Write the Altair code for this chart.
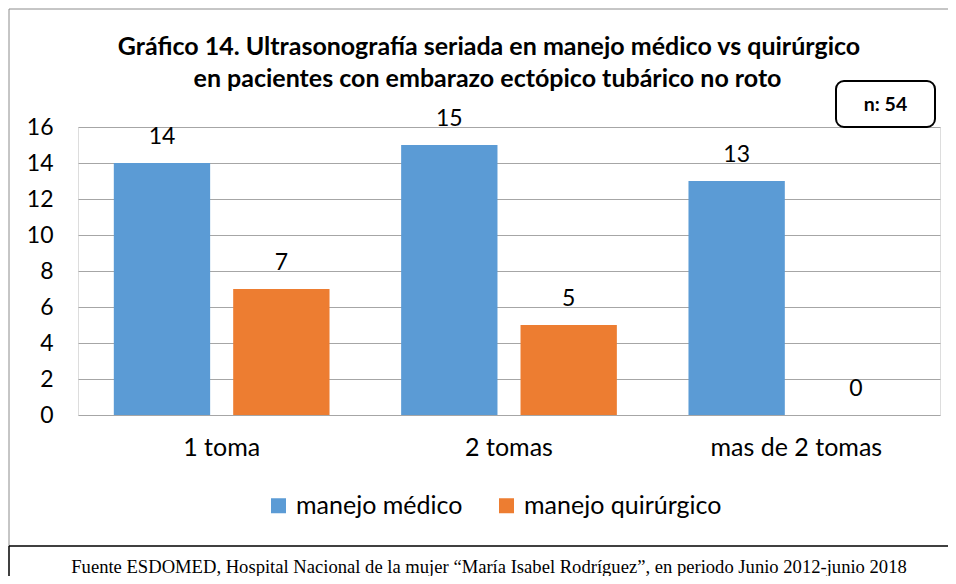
import altair as alt
import pandas as pd

categories = ["1 toma", "2 tomas", "mas de 2 tomas"]
series = ["manejo médico", "manejo quirúrgico"]
medico = [14, 15, 13]
quirurgico = [7, 5, 0]
colors = ["#5B9BD5", "#ED7D31"]
y_ticks = [0, 2, 4, 6, 8, 10, 12, 14, 16]

title_line1 = "Gráfico 14. Ultrasonografía seriada en manejo médico vs quirúrgico"
title_line2 = "en pacientes con embarazo ectópico tubárico no roto"
n_label = "n: 54"
footer = "Fuente ESDOMED, Hospital Nacional de la mujer “María Isabel Rodríguez”, en periodo Junio 2012-junio 2018"

rows = []
for c, m, q in zip(categories, medico, quirurgico):
    rows.append({"categoria": c, "serie": series[0], "valor": m})
    rows.append({"categoria": c, "serie": series[1], "valor": q})
df = pd.DataFrame(rows)

FONT = "Lato"
W, H = 862, 288

one = pd.DataFrame({"k": [0]})

# decorative frame lines (open on the right, as in the reference)
outer_top = alt.Chart(one).mark_rule(color="#8c8c8c", strokeWidth=1).encode(
    x=alt.value(-69), x2=alt.value(870), y=alt.value(-118)
)
outer_left = alt.Chart(one).mark_rule(color="#8c8c8c", strokeWidth=1).encode(
    x=alt.value(-69), y=alt.value(-118), y2=alt.value(419)
)
footer_top = alt.Chart(one).mark_rule(color="black", strokeWidth=1.5).encode(
    x=alt.value(-69), x2=alt.value(870), y=alt.value(419)
)
footer_left = alt.Chart(one).mark_rule(color="black", strokeWidth=1.5).encode(
    x=alt.value(-69), y=alt.value(419), y2=alt.value(449)
)
footer_text = alt.Chart(one).mark_text(
    font="Liberation Serif", fontSize=18.6, color="black", baseline="alphabetic", align="center"
).encode(x=alt.value(411), y=alt.value(446), text=alt.value(footer))

title1 = alt.Chart(one).mark_text(
    font=FONT, fontSize=25, fontWeight="bold", color="black", baseline="alphabetic", align="center"
).encode(x=alt.value(411), y=alt.value(-72), text=alt.value(title_line1))
title2 = alt.Chart(one).mark_text(
    font=FONT, fontSize=25, fontWeight="bold", color="black", baseline="alphabetic", align="center"
).encode(x=alt.value(409.5), y=alt.value(-40), text=alt.value(title_line2))

n_box = alt.Chart(one).mark_rect(fill="white", stroke="black", strokeWidth=2, cornerRadius=8).encode(
    x=alt.value(758), x2=alt.value(857), y=alt.value(-46), y2=alt.value(0)
)
n_text = alt.Chart(one).mark_text(
    font=FONT, fontSize=19.5, fontWeight="bold", color="black", baseline="middle", align="center"
).encode(x=alt.value(807.5), y=alt.value(-22), text=alt.value(n_label))

base = alt.Chart(df).encode(
    x=alt.X(
        "categoria:N",
        sort=categories,
        scale=alt.Scale(paddingInner=0, paddingOuter=0),
        axis=alt.Axis(
            title=None, labelAngle=0, labelFontSize=25, labelFont=FONT, labelColor="black",
            labelPadding=20, ticks=False, domain=False,
        ),
    ),
    xOffset=alt.XOffset("serie:N", sort=series, scale=alt.Scale(paddingInner=0.193, paddingOuter=0.30)),
    y=alt.Y(
        "valor:Q",
        scale=alt.Scale(domain=[0, 16], nice=False),
        axis=alt.Axis(
            title=None, values=y_ticks, ticks=False, domain=False, grid=True,
            gridColor="#a6a6a6", gridWidth=1, labelFontSize=23, labelFont=FONT,
            labelColor="black", labelPadding=25,
        ),
    ),
)

bars = base.mark_bar().encode(
    color=alt.Color(
        "serie:N",
        sort=series,
        scale=alt.Scale(domain=series, range=colors),
        legend=alt.Legend(
            title=None, orient="none", legendX=188, legendY=366, direction="horizontal",
            symbolType="square", symbolSize=225, symbolStrokeWidth=0, labelFontSize=25,
            labelFont=FONT, labelColor="black", columnPadding=31, labelOffset=5,
            labelLimit=0,
        ),
    )
)

labels = base.mark_text(
    font=FONT, fontSize=23, color="black", baseline="alphabetic", dy=-19
).encode(text="valor:Q")

chart = alt.layer(
    outer_top, outer_left, bars, labels, n_box, n_text, title1, title2,
    footer_top, footer_left, footer_text
).properties(
    width=W,
    height=H,
    padding={"left": 70, "top": 119, "right": 8, "bottom": 161},
    autosize=alt.AutoSizeParams(type="none"),
).configure_view(stroke=None).configure(background="white")

chart.save("out.html", embed_options={"renderer": "svg", "actions": False})
